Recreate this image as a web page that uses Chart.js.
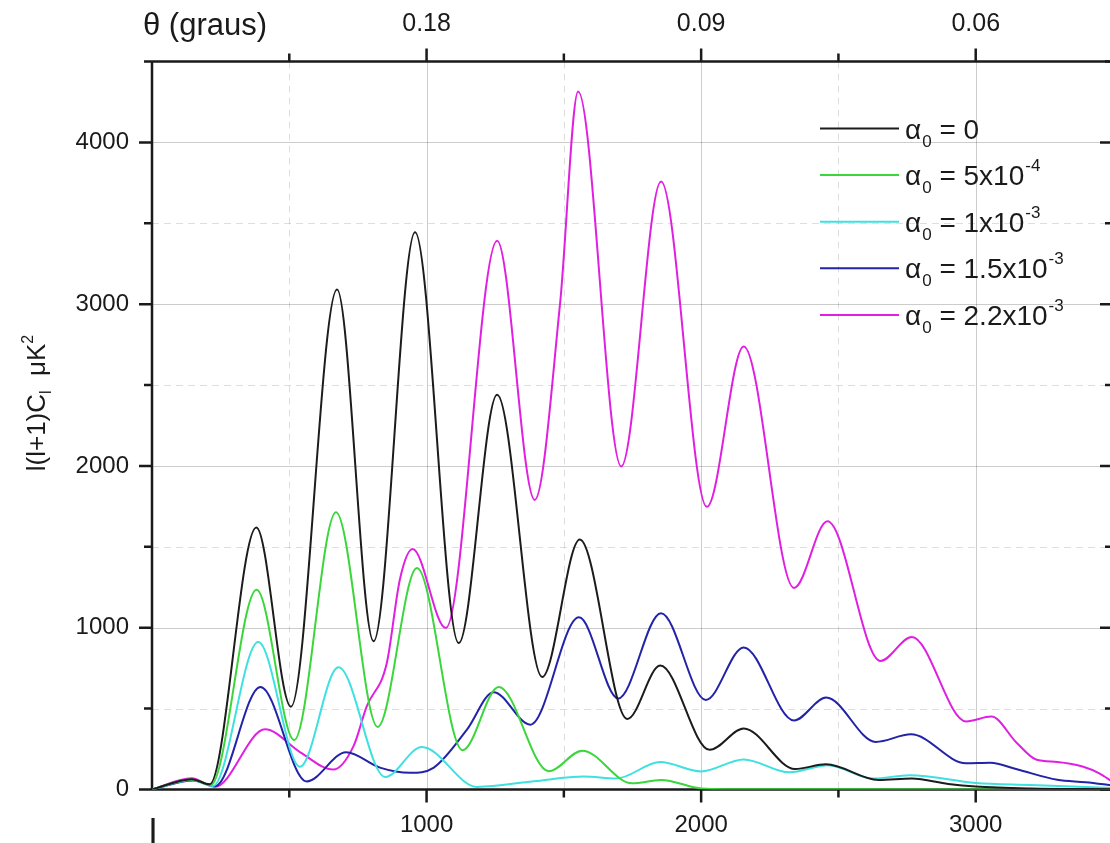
<!DOCTYPE html>
<html>
<head>
<meta charset="utf-8">
<style>
  html, body { margin: 0; padding: 0; background: #fff; overflow: hidden; }
  #wrap { width: 1110px; height: 843px; overflow: hidden; position: relative; }
  canvas { display: block; }
</style>
<script src="https://cdn.jsdelivr.net/npm/chart.js@4.4.1/dist/chart.umd.min.js"></script>
</head>
<body>
<div id="wrap"><canvas id="c" width="1114" height="843"></canvas></div>
<script>
// Temperature power spectrum l(l+1)C_l (μK²) versus multipole l, one curve per α0.
// Each series lists its maxima and minima plus a few points on the slower stretches.

const ellA0 = [0, 145, 210, 380, 506, 674, 807, 958, 1117, 1257, 1421, 1558, 1731, 1851, 2031, 2155, 2342, 2455, 2646, 2767, 2900, 3000, 3200, 3500];
const clA0  = [0, 64, 32, 1620, 512, 3090, 916, 3445, 905, 2440, 696, 1545, 436, 766, 245, 377, 127, 156, 59, 68, 34, 18, 6, 2];

const ell5e4 = [0, 145, 214, 381, 518, 670, 822, 965, 1131, 1263, 1445, 1567, 1748, 1854, 2002, 2100, 2500, 3500];
const cl5e4  = [0, 62, 28, 1235, 306, 1714, 387, 1369, 243, 634, 113, 240, 38, 59, 6, 2, 1, 0];

const ell1e3 = [0, 145, 222, 387, 539, 679, 849, 983, 1184, 1390, 1573, 1691, 1851, 2000, 2155, 2321, 2462, 2625, 2760, 3000, 3200, 3500];
const cl1e3  = [0, 58, 22, 912, 141, 755, 78, 263, 16, 51, 80, 68, 170, 112, 186, 106, 150, 68, 88, 40, 28, 10];

const ell15e3 = [0, 150, 230, 395, 563, 707, 830, 940, 1025, 1147, 1244, 1378, 1555, 1698, 1854, 2017, 2155, 2338, 2455, 2636, 2764, 2965, 3053, 3150, 3297, 3400, 3500];
const cl15e3  = [0, 56, 20, 634, 50, 230, 135, 103, 134, 370, 601, 401, 1064, 563, 1090, 554, 878, 427, 568, 294, 341, 162, 165, 125, 60, 45, 25];

const ell22e3 = [0, 144, 229, 412, 540, 660, 734, 782, 855, 903, 949, 1070, 1257, 1394, 1486, 1552, 1709, 1854, 2021, 2155, 2338, 2460, 2653, 2767, 2965, 3057, 3149, 3220, 3297, 3392, 3450, 3500];
const cl22e3  = [0, 69, 17, 372, 230, 123, 268, 514, 780, 1300, 1486, 998, 3392, 1790, 3000, 4314, 1997, 3758, 1747, 2739, 1246, 1658, 795, 943, 421, 451, 289, 185, 170, 141, 100, 45];

const seriesColors = ['#1c1c1c', '#3ad63a', '#3ee0e0', '#2323a8', '#e020e0'];
const legendValues = ['0', '5x10', '1x10', '1.5x10', '2.2x10'];
const legendExponents = ['', '-4', '-3', '-3', '-3'];

const bottomTickValues = [1000, 2000, 3000];
const topTickLabels = ['0.18', '0.09', '0.06'];
const leftTickValues = [0, 1000, 2000, 3000, 4000];

const FONT = '"Liberation Sans", Arial, Helvetica, sans-serif';

function pairs(xs, ys) { return xs.map((x, i) => ({ x: x, y: ys[i] })); }

const datasets = [
  pairs(ellA0, clA0),
  pairs(ell5e4, cl5e4),
  pairs(ell1e3, cl1e3),
  pairs(ell15e3, cl15e3),
  pairs(ell22e3, cl22e3)
].map((d, i) => ({
  data: d,
  borderColor: seriesColors[i],
  borderWidth: 2,
  pointRadius: 0,
  fill: false,
  cubicInterpolationMode: 'monotone'
}));

// Frame, grid and tick marks of the plot box
const framePlugin = {
  id: 'frame',
  beforeDatasetsDraw(chart) {
    const { ctx, chartArea: a, scales } = chart;
    const x = scales.x, y = scales.y;
    ctx.save();
    for (let v = 500; v < 3500; v += 500) {
      const px = Math.round(x.getPixelForValue(v)) + 0.5;
      const major = v % 1000 === 0;
      ctx.strokeStyle = major ? 'rgba(0,0,0,0.20)' : 'rgba(0,0,0,0.13)';
      ctx.lineWidth = 1;
      ctx.setLineDash(major ? [] : [7, 5]);
      ctx.beginPath(); ctx.moveTo(px, a.top); ctx.lineTo(px, a.bottom); ctx.stroke();
    }
    for (let v = 500; v < 4500; v += 500) {
      const py = Math.round(y.getPixelForValue(v)) + 0.5;
      const major = v % 1000 === 0;
      ctx.strokeStyle = major ? 'rgba(0,0,0,0.20)' : 'rgba(0,0,0,0.13)';
      ctx.lineWidth = 1;
      ctx.setLineDash(major ? [] : [7, 5]);
      ctx.beginPath(); ctx.moveTo(a.left, py); ctx.lineTo(a.right, py); ctx.stroke();
    }
    ctx.setLineDash([]);
    ctx.strokeStyle = '#1a1a1a';
    ctx.lineWidth = 2.5;
    ctx.beginPath();
    ctx.moveTo(a.left, a.top); ctx.lineTo(a.right, a.top);
    ctx.moveTo(a.left, a.bottom); ctx.lineTo(a.right, a.bottom);
    ctx.moveTo(a.left, a.top); ctx.lineTo(a.left, a.bottom);
    ctx.moveTo(a.right, a.top); ctx.lineTo(a.right, a.bottom);
    ctx.stroke();
    // x tick marks point outward on both horizontal axes
    for (let v = 500; v < 3500; v += 500) {
      const px = x.getPixelForValue(v);
      const len = v % 1000 === 0 ? 13 : 8;
      ctx.beginPath();
      ctx.moveTo(px, a.bottom); ctx.lineTo(px, a.bottom + len);
      ctx.moveTo(px, a.top); ctx.lineTo(px, a.top - len);
      ctx.stroke();
    }
    // y tick marks: outward on the left, inward on the right
    for (let v = 0; v <= 4500; v += 500) {
      const py = y.getPixelForValue(v);
      const len = v % 1000 === 0 ? 13 : 8;
      ctx.beginPath();
      ctx.moveTo(a.left, py); ctx.lineTo(a.left - len, py);
      ctx.moveTo(a.right, py); ctx.lineTo(a.right - len, py);
      ctx.stroke();
    }
    ctx.restore();
  },
  afterDraw(chart) {
    const { ctx } = chart;
    ctx.save();
    ctx.fillStyle = '#1a1a1a';
    ctx.textBaseline = 'alphabetic';
    ctx.textAlign = 'left';

    // top axis title
    ctx.font = '31px ' + FONT;
    ctx.fillText('\u03b8 (graus)', 143, 35);

    // y axis title, rotated, with subscript and superscript
    const big = '26px ' + FONT, small = '16px ' + FONT;
    const parts = [
      ['l(l+1)C', big, 0],
      ['l', small, 6],
      ['  \u03bcK', big, 0],
      ['2', small, -12]
    ];
    let total = 0;
    parts.forEach(p => { ctx.font = p[1]; total += ctx.measureText(p[0]).width; });
    ctx.translate(45, 403);
    ctx.rotate(-Math.PI / 2);
    let cx = -total / 2;
    parts.forEach(p => {
      ctx.font = p[1];
      ctx.fillText(p[0], cx, p[2]);
      cx += ctx.measureText(p[0]).width;
    });
    ctx.setTransform(1, 0, 0, 1, 0, 0);

    // legend
    const rowY0 = 128.5, rowStep = 46.6;
    for (let i = 0; i < seriesColors.length; i++) {
      const ry = rowY0 + i * rowStep;
      ctx.strokeStyle = seriesColors[i];
      ctx.lineWidth = 2;
      ctx.beginPath(); ctx.moveTo(820, ry); ctx.lineTo(899, ry); ctx.stroke();
      const base = ry + 10;
      ctx.fillStyle = '#1a1a1a';
      ctx.font = '28px ' + FONT;
      let tx = 905;
      ctx.fillText('\u03b1', tx, base);
      tx += ctx.measureText('\u03b1').width + 1;
      ctx.font = '17px ' + FONT;
      ctx.fillText('0', tx, base + 8);
      tx += ctx.measureText('0').width;
      ctx.font = '28px ' + FONT;
      const main = ' = ' + legendValues[i];
      ctx.fillText(main, tx, base);
      tx += ctx.measureText(main).width + 1;
      if (legendExponents[i]) {
        ctx.font = '17px ' + FONT;
        ctx.fillText(legendExponents[i], tx, base - 14);
      }
    }

    // title of the bottom scale, cut by the page edge
    ctx.font = '36px ' + FONT;
    ctx.fillText('l', 149, 845);
    ctx.restore();
  }
};

new Chart(document.getElementById('c'), {
  type: 'line',
  data: { datasets: datasets },
  options: {
    responsive: false,
    animation: false,
    devicePixelRatio: 1,
    layout: { padding: { left: 0, right: 1, top: 0, bottom: 0 } },
    plugins: { legend: { display: false }, tooltip: { enabled: false } },
    scales: {
      x: {
        type: 'linear', position: 'bottom', min: 0, max: 3500,
        grid: { display: false, drawTicks: true, tickLength: 21 },
        border: { display: false },
        ticks: {
          stepSize: 500, autoSkip: false, maxRotation: 0, padding: 0,
          color: '#1a1a1a', font: { family: FONT, size: 24 },
          callback: v => bottomTickValues.includes(v) ? String(v) : ''
        },
        afterFit: s => { s.height = 53.5; }
      },
      x2: {
        type: 'linear', position: 'top', min: 0, max: 3500,
        grid: { display: false, drawTicks: true, tickLength: 22 },
        border: { display: false },
        ticks: {
          stepSize: 500, autoSkip: false, maxRotation: 0, padding: 0,
          color: '#1a1a1a', font: { family: FONT, size: 25 },
          callback: v => {
            const k = bottomTickValues.indexOf(v);
            return k >= 0 ? topTickLabels[k] : '';
          }
        },
        afterFit: s => { s.height = 61.5; }
      },
      y: {
        type: 'linear', position: 'left', min: 0, max: 4500,
        grid: { display: false, drawTicks: false },
        border: { display: false },
        ticks: {
          stepSize: 500, autoSkip: false, padding: 23,
          color: '#1a1a1a', font: { family: FONT, size: 24 },
          callback: v => leftTickValues.includes(v) ? String(v) : ''
        },
        afterFit: s => { s.width = 152; }
      }
    }
  },
  plugins: [framePlugin]
});
</script>
</body>
</html>
